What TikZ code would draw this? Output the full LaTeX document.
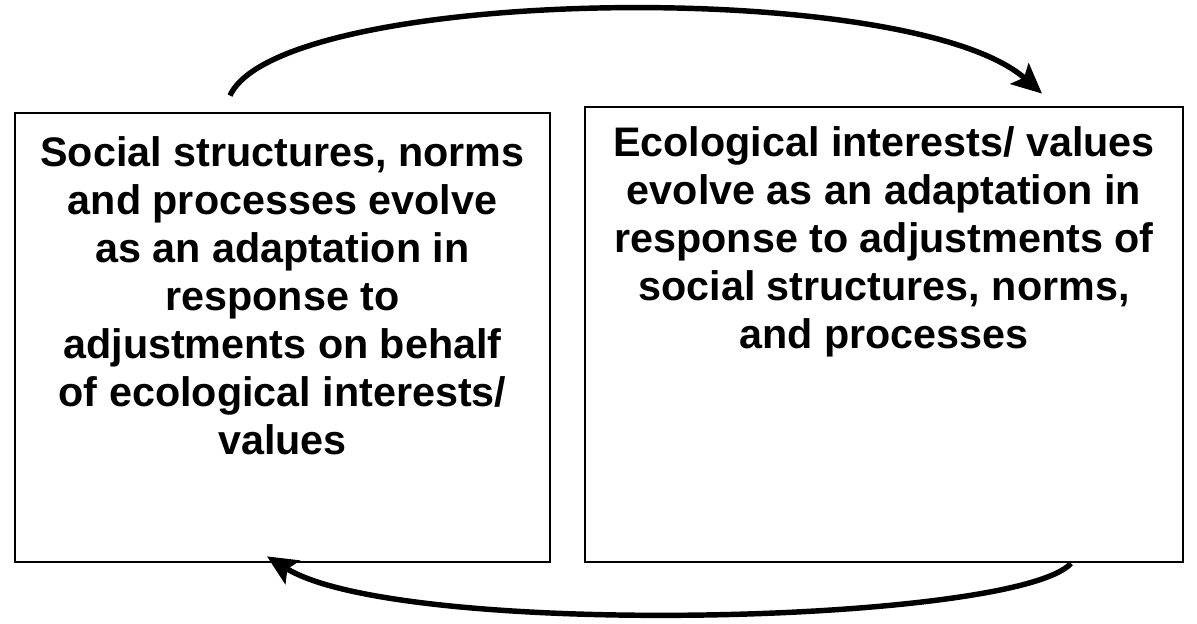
\documentclass[tikz,border=0pt]{standalone}
\usepackage{fontspec}
\setmainfont{Liberation Sans}
\usetikzlibrary{arrows.meta}
\tikzset{
  box/.style={draw, line width=1.6pt, rectangle, inner sep=0pt},
  boxtext/.style={anchor=north, align=center, inner sep=0pt, font=\bfseries\fontsize{23.5}{27.3}\selectfont},
  flow/.style={line width=3.1pt, -{Stealth[length=0.6cm, width=0.55cm, inset=0.12cm]}}
}
\begin{document}
\begin{tikzpicture}[scale=1]
        \useasboundingbox (0,0) rectangle (23.94,12.48);
        % Left box
        \node at (5.65, 5.73) (lbox) [box, minimum width=10.7cm, minimum height=8.98cm] {};
        \node at ([yshift=-0.5cm]lbox.north) (ltext) [boxtext] {Social structures, norms\\ and processes evolve\\ as an adaptation in\\ response to\\ adjustments on behalf\\ of ecological interests/\\ values};
        
        % Right box
        \node at (17.68, 5.79) (rbox) [box, minimum width=11.96cm, minimum height=9.1cm] {};
        \node at ([yshift=-0.42cm]rbox.north) (rtext) [boxtext] {Ecological interests/ values\\ evolve as an adaptation in\\ response to adjustments of\\ social structures, norms,\\ and processes};
        
        % Feedback arrows
        \coordinate (ltop) at ([xshift=-1.05cm, yshift=0.32cm]lbox.north);
        \coordinate (rtop) at ([xshift=3.16cm, yshift=0.24cm]rbox.north);
        \coordinate (rbot) at ([xshift=3.74cm]rbox.south);
        \coordinate (lbot) at ([xshift=-0.31cm, yshift=0.14cm]lbox.south);
        \draw[flow] (ltop) .. controls (5.6, 12.75) and (18.2, 12.95) .. (rtop);
        \draw[flow] (rbot) .. controls (20.3, 0.0) and (8.0, -0.3) .. (lbot);
    \end{tikzpicture}
\end{document}
